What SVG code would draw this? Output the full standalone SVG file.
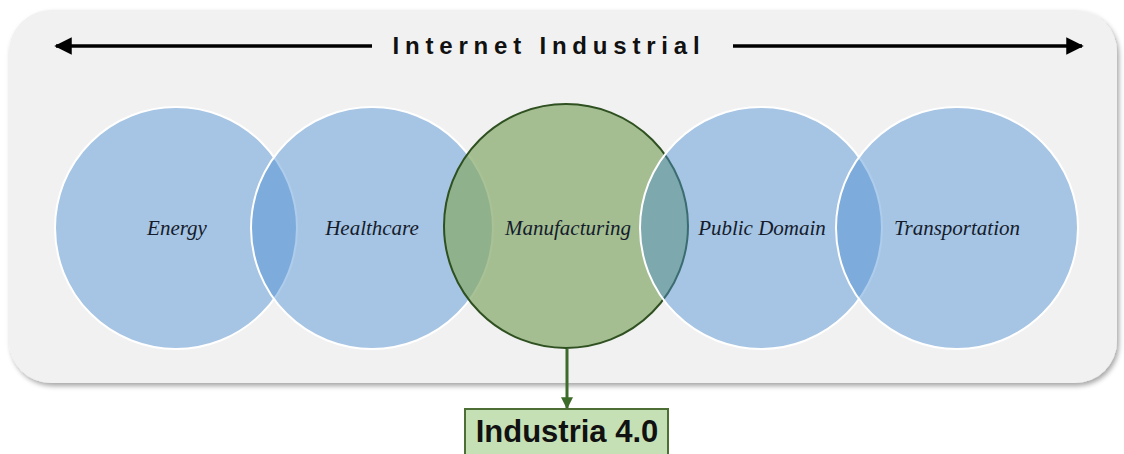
<svg xmlns="http://www.w3.org/2000/svg" width="1124" height="454" viewBox="0 0 1124 454">
  <defs>
    <filter id="panelShadow" x="-5%" y="-5%" width="110%" height="115%">
      <feDropShadow dx="2" dy="3" stdDeviation="2.5" flood-color="#000" flood-opacity="0.35"/>
    </filter>
    <marker id="blackHead" viewBox="0 0 10 10" refX="9" refY="5" markerWidth="5" markerHeight="5" orient="auto-start-reverse">
      <path d="M0,0 L10,5 L0,10 z" fill="#000"/>
    </marker>
    <marker id="greenHead" viewBox="0 0 10 10" refX="9" refY="5" markerWidth="4" markerHeight="4" orient="auto">
      <path d="M0,0 L10,5 L0,10 z" fill="#3d6b2a"/>
    </marker>
  </defs>
  <style>
    .sector { fill: rgb(75,142,210); fill-opacity: 0.45; stroke: #ffffff; stroke-width: 2; }
    .core { fill: #86aa6c; fill-opacity: 0.72; stroke: #2f5020; stroke-width: 2; }
    .label { font-family: "Liberation Serif", "Times New Roman", serif; font-style: italic; font-size: 21px; fill: #141c2c; text-anchor: middle; }
    .title { font-family: "Liberation Sans", Arial, sans-serif; font-weight: bold; font-size: 24px; letter-spacing: 5.8px; fill: #111; text-anchor: middle; }
  </style>

  <rect width="1124" height="454" fill="#ffffff"/>

  <!-- background panel -->
  <rect id="panel" x="9" y="10" width="1108" height="373" rx="42" ry="42" fill="#f1f1f1" filter="url(#panelShadow)"/>

  <!-- title with its span arrows -->
  <g id="title">
    <line x1="372" y1="46" x2="56" y2="46" stroke="#000" stroke-width="3.5" marker-end="url(#blackHead)"/>
    <line x1="733" y1="46" x2="1082" y2="46" stroke="#000" stroke-width="3.5" marker-end="url(#blackHead)"/>
    <text class="title" x="549" y="54">Internet Industrial</text>
  </g>

  <!-- sector circles, stacked left to right -->
  <g id="energy">
    <circle class="sector" cx="176" cy="228" r="121"/>
  </g>
  <g id="healthcare">
    <circle class="sector" cx="372" cy="228" r="121"/>
  </g>
  <g id="manufacturing">
    <circle class="core" cx="566" cy="226" r="122"/>
  </g>
  <g id="public-domain">
    <circle class="sector" cx="761" cy="228" r="121"/>
  </g>
  <g id="transportation">
    <circle class="sector" cx="957" cy="228" r="121"/>
  </g>

  <g id="labels">
    <text class="label" x="177" y="235">Energy</text>
    <text class="label" x="372" y="235">Healthcare</text>
    <text class="label" x="568" y="235">Manufacturing</text>
    <text class="label" x="762" y="235">Public Domain</text>
    <text class="label" x="957" y="235">Transportation</text>
  </g>

  <!-- connectors -->
  <g id="connectors">
    <line x1="567" y1="349" x2="567" y2="408" stroke="#3d6b2a" stroke-width="3" marker-end="url(#greenHead)"/>
  </g>

  <g id="industria">
    <rect x="465" y="409" width="203" height="50" fill="#c6e0b5" stroke="#4d6e35" stroke-width="2"/>
    <text x="567" y="442" font-family="Liberation Sans, Arial, sans-serif" font-weight="bold" font-size="31" fill="#111" text-anchor="middle">Industria 4.0</text>
  </g>
</svg>
